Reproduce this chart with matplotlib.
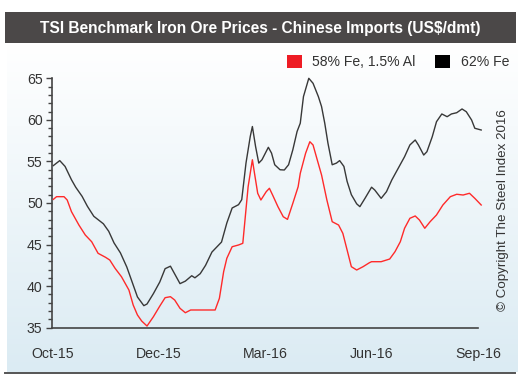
import numpy as np
import matplotlib
matplotlib.use("Agg")
import matplotlib.pyplot as plt
from matplotlib.patches import Rectangle
from matplotlib.ticker import MultipleLocator

plt.rcParams['font.family'] = ['Liberation Sans', 'DejaVu Sans']

# ---- data ----
title = "TSI Benchmark Iron Ore Prices - Chinese Imports (US$/dmt)"
tick_labels = ["Oct-15", "Dec-15", "Mar-16", "Jun-16", "Sep-16"]
series_names = ["58% Fe, 1.5% Al", "62% Fe"]

fe62_x = [0.01, 0.07, 0.12, 0.18, 0.22, 0.28, 0.33, 0.39, 0.45, 0.48, 0.53, 0.58,
          0.64, 0.70, 0.75, 0.80, 0.86, 0.89, 0.95, 1.01, 1.06, 1.11, 1.14, 1.20,
          1.25, 1.31, 1.34, 1.39, 1.44, 1.50, 1.56, 1.59, 1.64, 1.69, 1.75, 1.78,
          1.82, 1.86, 1.88, 1.91, 1.94, 1.97, 2.03, 2.06, 2.09, 2.14, 2.18, 2.22,
          2.26, 2.30, 2.33, 2.36, 2.41, 2.45, 2.50, 2.53, 2.56, 2.59, 2.63, 2.67,
          2.70, 2.74, 2.77, 2.81, 2.86, 2.89, 2.94, 3.00, 3.03, 3.09, 3.14, 3.19,
          3.25, 3.31, 3.36, 3.41, 3.44, 3.49, 3.52, 3.57, 3.61, 3.66, 3.71, 3.75,
          3.80, 3.85, 3.89, 3.94, 3.97, 4.03]
fe62_y = [54.5, 55.1, 54.4, 52.8, 51.9, 50.8, 49.6, 48.4, 47.8, 47.5, 46.6, 45.2,
          44.0, 42.3, 40.5, 38.7, 37.65, 37.85, 39.1, 40.5, 42.1, 42.4, 41.7, 40.3,
          40.6, 41.25, 41.0, 41.5, 42.5, 44.1, 44.9, 45.3, 47.6, 49.4, 49.8, 50.4,
          54.8, 58.0, 59.2, 56.8, 54.8, 55.2, 56.7, 56.0, 54.6, 54.0, 53.97, 54.6,
          56.4, 58.6, 59.6, 62.8, 65.0, 64.4, 62.8, 61.6, 59.6, 57.2, 54.6, 54.8,
          55.1, 54.4, 52.6, 51.0, 49.9, 49.56, 50.6, 51.9, 51.56, 50.56, 51.36, 52.77,
          54.17, 55.57, 56.98, 57.58, 56.98, 55.77, 56.17, 57.97, 59.78, 60.71, 60.38, 60.71,
          60.86, 61.31, 60.98, 59.98, 58.99, 58.78]

fe58_x = [0.01, 0.04, 0.11, 0.14, 0.18, 0.25, 0.31, 0.37, 0.43, 0.50, 0.54, 0.59,
          0.65, 0.72, 0.76, 0.80, 0.84, 0.89, 0.95, 1.01, 1.06, 1.11, 1.15, 1.20,
          1.25, 1.30, 1.53, 1.57, 1.61, 1.64, 1.69, 1.75, 1.79, 1.84, 1.88, 1.90,
          1.93, 1.96, 2.01, 2.04, 2.07, 2.12, 2.17, 2.21, 2.26, 2.31, 2.33, 2.38,
          2.42, 2.45, 2.49, 2.53, 2.58, 2.63, 2.69, 2.73, 2.77, 2.81, 2.86, 2.92,
          2.98, 3.00, 3.09, 3.17, 3.22, 3.27, 3.31, 3.36, 3.41, 3.45, 3.50, 3.55,
          3.61, 3.67, 3.74, 3.80, 3.86, 3.92, 3.97, 4.03]
fe58_y = [50.44, 50.76, 50.76, 50.36, 48.96, 47.35, 46.15, 45.34, 43.95, 43.47, 43.14, 42.14,
          41.13, 39.53, 37.73, 36.53, 35.8, 35.2, 36.32, 37.6, 38.61, 38.73, 38.33, 37.33,
          36.8, 37.13, 37.13, 38.53, 41.74, 43.35, 44.74, 44.95, 45.15, 51.96, 55.2, 53.57,
          51.17, 50.36, 51.36, 51.77, 50.96, 49.56, 48.35, 48.03, 49.96, 51.96, 53.57, 55.98,
          57.37, 56.98, 55.17, 53.37, 50.36, 47.75, 47.35, 46.35, 44.35, 42.34, 41.94, 42.34,
          42.82, 42.94, 42.94, 43.26, 44.14, 45.34, 46.96, 48.16, 48.44, 47.95, 46.96, 47.75,
          48.56, 49.76, 50.76, 51.05, 50.96, 51.17, 50.56, 49.76]

copyright_text = "\u00a9 Copyright The Steel Index 2016"

RED = "#ff2a2a"
BLACK = "#383838"

W, H = 527, 381
fig = plt.figure(figsize=(W / 100, H / 100), dpi=100)

# background canvas in pixel coordinates
bg = fig.add_axes([0, 0, 1, 1])
bg.set_xlim(0, W)
bg.set_ylim(H, 0)
bg.axis("off")

# gradient panel
grad = np.linspace(0, 1, 256).reshape(-1, 1)
top_c = np.array([255, 255, 255]) / 255
bot_c = np.array([219, 235, 243]) / 255
img = top_c[None, None, :] * (1 - grad[:, :, None]) + bot_c[None, None, :] * grad[:, :, None]
bg.imshow(img, extent=[7, 518, 372, 44], aspect="auto", zorder=0)

# title bar
bg.add_patch(Rectangle((5, 12), 511, 31, facecolor="#4b4848", edgecolor="none", zorder=1))
bg.text(260, 28, title, color="white", fontsize=11.2, fontweight="bold",
        ha="center", va="center", zorder=2)

# bottom rule
bg.plot([5, 515], [372.5, 372.5], color="#555555", lw=1.4, zorder=2)

# legend
bg.add_patch(Rectangle((287, 55), 15, 13, facecolor="#ee1c24", edgecolor="none", zorder=2))
bg.text(312, 62, series_names[0], fontsize=10.1, color="#333333", va="center", ha="left")
bg.add_patch(Rectangle((435, 55), 15, 13, facecolor="black", edgecolor="none", zorder=2))
bg.text(461, 62, series_names[1], fontsize=10.1, color="#333333", va="center", ha="left")

# copyright
bg.text(503, 210, copyright_text, rotation=90, fontsize=9.6, color="#333333",
        ha="center", va="center")

# main chart
left, right = 52.3 / W, 478 / W
bottom, top = 1 - 327.7 / H, 1 - 78.3 / H
ax = fig.add_axes([left, bottom, right - left, top - bottom])
ax.patch.set_alpha(0)
ax.plot(fe58_x, fe58_y, color=RED, lw=1.0, clip_on=False, zorder=3)
ax.plot(fe62_x, fe62_y, color=BLACK, lw=1.0, clip_on=False, zorder=3)
ax.set_xlim(0, 4)
ax.set_ylim(35, 65)
ax.set_xticks(range(len(tick_labels)))
ax.set_xticklabels(tick_labels)
ax.yaxis.set_major_locator(MultipleLocator(5))
ax.yaxis.set_minor_locator(MultipleLocator(1))
ax.tick_params(axis="x", length=0, pad=14, labelsize=10.2, labelcolor="#333333")
ax.tick_params(axis="y", which="major", length=4, width=1, color="#444444",
               labelsize=10.2, labelcolor="#333333", pad=3)
ax.tick_params(axis="y", which="minor", length=3, width=1, color="#444444")
for s in ["top", "right"]:
    ax.spines[s].set_visible(False)
for s in ["left", "bottom"]:
    ax.spines[s].set_color("#444444")
    ax.spines[s].set_linewidth(1.2)

fig.savefig("out.png", dpi=100)
